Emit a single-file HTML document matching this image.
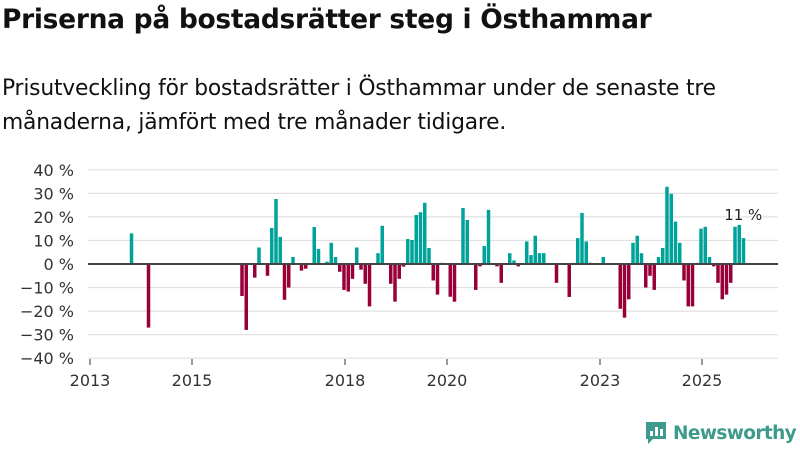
<!DOCTYPE html>
<html><head><meta charset="utf-8"><style>
body{margin:0;width:800px;height:450px;background:#fff;font-family:"Liberation Sans","DejaVu Sans",sans-serif;color:#111;overflow:hidden;position:relative}
h1{position:absolute;left:2px;top:4px;margin:0;font-size:26.5px;font-weight:bold;font-family:"DejaVu Sans","Liberation Sans",sans-serif;letter-spacing:-0.3px}
p{position:absolute;left:2px;top:72px;margin:0;font-size:21.8px;line-height:34px;font-family:"DejaVu Sans","Liberation Sans",sans-serif;width:790px;letter-spacing:-0.2px}
svg{position:absolute;left:0;top:0}
</style></head><body>
<h1>Priserna på bostadsrätter steg i Östhammar</h1>
<p>Prisutveckling för bostadsrätter i Östhammar under de senaste tre<br>månaderna, jämfört med tre månader tidigare.</p>
<svg id="chart" width="800" height="450"></svg>
<script>
const months=[9,13,35,36,38,39,41,42,43,44,45,46,47,49,50,52,53,55,56,57,58,59,60,61,62,63,64,65,67,68,70,71,72,73,74,75,76,77,78,79,80,81,82,84,85,87,88,90,91,92,93,95,96,98,99,100,102,103,104,105,106,109,112,113,114,115,116,117,120,124,125,126,127,128,129,130,131,132,133,134,135,136,137,138,139,140,141,142,143,144,145,146,147,148,149,150,151,152,153];
const values=[13,-27,-13.6,-28,-5.8,7,-5,15.3,27.6,11.5,-15.2,-10,3,-2.8,-2,15.7,6.4,1,9,3,-3.3,-11,-11.7,-6.3,7,-2.4,-8.4,-18,4.6,16.2,-8.4,-16,-6.3,-1.1,10.6,10.2,20.8,22,26,6.8,-7,-13,0.5,-13.9,-16,23.8,18.7,-11,-1,7.6,23,-1,-8,4.6,1.5,-1,9.6,3.8,12,4.6,4.6,-8,-14,0.5,11,21.7,9.6,0.5,3,-19,-22.8,-15,9,12,4.6,-10,-5,-11,3,6.8,32.8,29.8,18,9,-7,-18,-18,0.5,15,15.8,3,-1,-8,-15,-13,-8,15.8,16.6,11];
const yTicks=[40,30,20,10,0,-10,-20,-30,-40];
const xTickYears=[2013,2015,2018,2020,2023,2025];
const lastLabel="11 %";
const NS="http://www.w3.org/2000/svg";
const svg=document.getElementById('chart');
const y=v=>264-v*2.355;
const xm=m=>90+4.25*m;
function mk(t,a){const e=document.createElementNS(NS,t);for(const k in a)e.setAttribute(k,a[k]);svg.appendChild(e);return e;}
yTicks.forEach(v=>{
 const g=mk('line',{x1:88,x2:778,y1:y(v),y2:y(v),stroke:'#e0e0e0','stroke-width':1.2});
 
 
 const t=mk('text',{x:74,y:y(v)+6,'text-anchor':'end','font-size':16,fill:'#333','font-family':'DejaVu Sans, Liberation Sans, sans-serif'});
 t.textContent=(v<0?'−'+(-v):v)+' %';
 
 
});
xTickYears.forEach(yr=>{
 const x=xm((yr-2013)*12);
 const tk=mk('line',{x1:x,x2:x,y1:359,y2:365,stroke:'#333','stroke-width':1});
 
 
 const t=mk('text',{x:x,y:386,'text-anchor':'middle','font-size':16,fill:'#333','font-family':'DejaVu Sans, Liberation Sans, sans-serif'});
 t.textContent=yr;
 
 
});
months.forEach((m,i)=>{
 const v=values[i];
 const r=mk('rect',{x:xm(m)+1.5,width:3.5,y:Math.min(y(v),y(0)),height:Math.abs(y(v)-y(0)),fill:v>=0?'#00a39a':'#990039'});
 
 
});
const z=mk('line',{x1:88,x2:778,y1:y(0),y2:y(0),stroke:'#444','stroke-width':2});


const lm=months[months.length-1];
const lb=mk('text',{x:xm(lm)+3,y:y(values[values.length-1])-18,'text-anchor':'middle','font-size':15,fill:'#222','font-family':'DejaVu Sans, Liberation Sans, sans-serif',stroke:'#fff','stroke-width':3,'paint-order':'stroke'});
lb.textContent=lastLabel;


</script>
<div style="position:absolute;left:644px;top:420px;display:flex;align-items:center">
 <svg width="24" height="26" style="position:static"><path d="M2 2h20v17H9l-5 5v-5H2z" fill="#3d9a8c"/><rect x="6" y="11" width="3" height="5" fill="#fff"/><rect x="11" y="7" width="3" height="9" fill="#fff"/><rect x="16" y="9" width="3" height="7" fill="#fff"/></svg>
 <span style="font-size:18.5px;font-weight:bold;color:#3d9a8c;margin-left:5px;font-family:'DejaVu Sans','Liberation Sans',sans-serif;letter-spacing:-0.6px">Newsworthy</span>
</div>
</body></html>
